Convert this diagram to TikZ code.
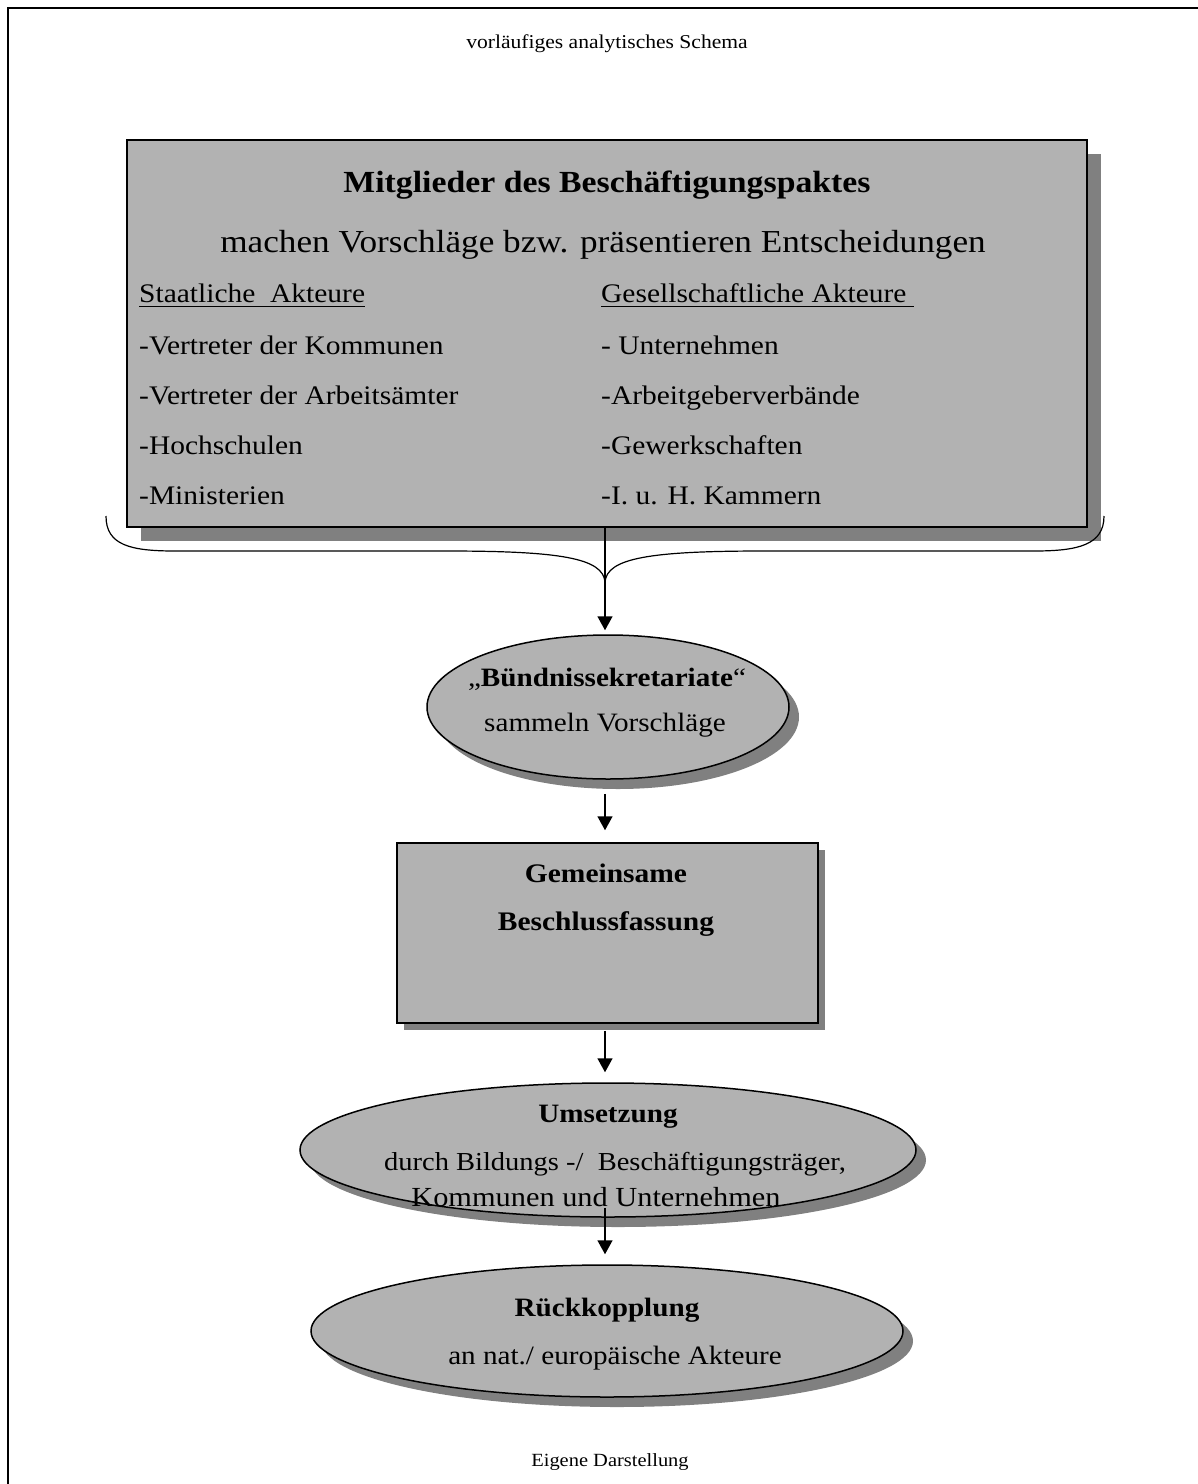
\documentclass[tikz,border=0pt]{standalone}
\usepackage{fontspec}
\setmainfont{Liberation Serif}[FakeStretch=1.1]
\usetikzlibrary{shapes.geometric,arrows.meta,shadows}
\definecolor{fillgray}{RGB}{178,178,178}
\definecolor{shadowgray}{RGB}{128,128,128}
\newcommand\fsz[1]{\fontsize{#1}{#1}\selectfont}
\begin{document}
\begin{tikzpicture}[x=1pt,y=-1pt,
  boxnode/.style={draw=black, line width=1.5pt, fill=fillgray, inner sep=0pt},
  ellnode/.style={ellipse, draw=black, line width=1.5pt, fill=fillgray, inner sep=0pt},
  shad/.style={general shadow={fill=shadowgray, shadow xshift=#1, shadow yshift=-#1}},
  ctxt/.style={inner sep=0pt, anchor=base},
  ltxt/.style={inner sep=0pt, anchor=base west},
  coltext/.style={ltxt, font=\fsz{26.8}},
  flow/.style={line width=1.5pt, -{Triangle[length=14pt,width=15pt]}},
  bracepath/.style={line width=1.2pt}
]
\useasboundingbox (0,0) rectangle (1198,1484);
% frame (open on right and bottom)
\draw[line width=2pt] (7.5,1484) -- (7.5,8) -- (1198,8);

% title and source
\node[ctxt, font=\fsz{19.6}] (title) at (607,48) {vorläufiges analytisches Schema};
\node[ctxt, font=\fsz{18.6}] (source) at (610,1466) {Eigene Darstellung};

% main box
\node[boxnode, shad=14pt, minimum width=960pt, minimum height=387pt] (pakt) at (607,333.5) {};
\node[ctxt, font=\fsz{30.7}\bfseries] (head) at (607,192) {Mitglieder des Beschäftigungspaktes};
\node[ctxt, font=\fsz{32}] (sub) at (603,252) {machen Vorschläge bzw. präsentieren Entscheidungen};

\node[coltext] (staat) at (139,302) {Staatliche~~Akteure};
\node[coltext] (gesell) at (601,302) {Gesellschaftliche Akteure};
\draw[line width=1.3pt] ([yshift=-4.5pt]staat.base west) -- ([yshift=-4.5pt]staat.base east);
\draw[line width=1.3pt] ([yshift=-4.5pt]gesell.base west) -- ([xshift=7pt,yshift=-4.5pt]gesell.base east);

\node[coltext] (l1) at (139,354) {-Vertreter der Kommunen};
\node[coltext] (l2) at (139,404) {-Vertreter der Arbeitsämter};
\node[coltext] (l3) at (139,454) {-Hochschulen};
\node[coltext] (l4) at (139,504) {-Ministerien};
\node[coltext] (r1) at (601,354) {- Unternehmen};
\node[coltext] (r2) at (601,404) {-Arbeitgeberverbände};
\node[coltext] (r3) at (601,454) {-Gewerkschaften};
\node[coltext] (r4) at (601,504) {-I. u. H. Kammern};

% brace under the main box
\coordinate (btip) at (605,582);
\draw[bracepath] (106,516) .. controls (106,545) and (130,551) .. (175,551)
  -- (446,551) .. controls (560,551) and (603,558) .. (btip)
  .. controls (607,558) and (650,551) .. (764,551)
  -- (1034,551) .. controls (1078,551) and (1104,545) .. (1104,516);

% ellipse 1
\node[ellnode, shad=10pt, minimum width=362pt, minimum height=144pt] (sekr) at (608,707) {};
\node[ctxt, font=\fsz{26.5}] (sekrA) at (607,686) {„\textbf{Bündnissekretariate}“};
\node[ctxt, font=\fsz{26.5}] (sekrB) at (605,731) {sammeln Vorschläge};

% box 2
\node[boxnode, shad=7pt, minimum width=421pt, minimum height=180pt] (beschl) at (607.5,933) {};
\node[ctxt, font=\fsz{26.8}\bfseries] (beschlA) at (606,882) {Gemeinsame};
\node[ctxt, font=\fsz{26.8}\bfseries] (beschlB) at (606,930) {Beschlussfassung};

% ellipse 3
\node[ellnode, shad=10pt, minimum width=616pt, minimum height=134pt] (ums) at (608,1150) {};
\node[ctxt, font=\fsz{26.5}\bfseries] (umsA) at (608,1122) {Umsetzung};
\node[ctxt, font=\fsz{25.9}] (umsB) at (615,1170) {durch Bildungs -/~~Beschäftigungsträger,};
\node[ctxt, font=\fsz{27.6}] (umsC) at (596,1206) {Kommunen und Unternehmen};

% ellipse 4
\node[ellnode, shad=10pt, minimum width=592pt, minimum height=132pt] (rueck) at (607,1331) {};
\node[ctxt, font=\fsz{26.5}\bfseries] (rueckA) at (607,1316) {Rückkopplung};
\node[ctxt, font=\fsz{26.5}] (rueckB) at (615,1364) {an nat./ europäische Akteure};

% connectors
\draw[flow, shorten >=4pt] (pakt.south -| btip) -- (sekr.north -| btip);
\draw[flow, shorten <=14pt, shorten >=12pt] (sekr.south -| btip) -- (beschl.north -| btip);
\draw[flow, shorten <=7pt, shorten >=10pt] (beschl.south -| btip) -- (ums.north -| btip);
\draw[flow, shorten >=10pt] ([yshift=10pt]ums.south -| btip) -- (rueck.north -| btip);
\end{tikzpicture}
\end{document}
